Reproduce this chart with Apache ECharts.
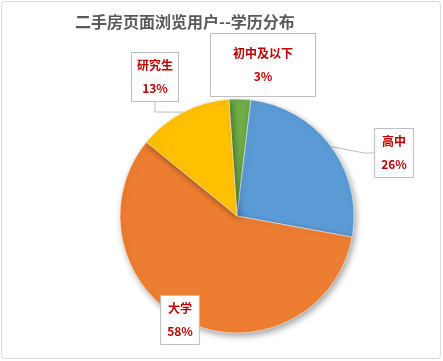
<!DOCTYPE html>
<html><head><meta charset="utf-8">
<script src="https://cdn.jsdelivr.net/npm/echarts@6/dist/echarts.min.js"></script>
<style>html,body{margin:0;padding:0;background:#fff}#c{width:443px;height:361px}</style>
</head><body><div id="c"></div>
<script>
var categories = ['初中及以下', '高中', '大学', '研究生'];
var values = [3, 26, 58, 13];
var colors = ['#70AD47', '#5B9BD5', '#ED7D31', '#FFC000'];
var titleText = '二手房页面浏览用户--学历分布';
// label box centres and paddings (layout only)
var labelPos = [[263, 65], [394, 153], [180, 320], [155, 77]];
var labelPad = [[8, 22], [1, 6], [1, 6], [1, 5]];

var chart = echarts.init(document.getElementById('c'), null, {renderer: 'canvas'});
var font = '"Noto Sans CJK SC", "Noto Sans", sans-serif';
chart.setOption({
  animation: false,
  backgroundColor: '#fff',
  title: {
    text: titleText, left: 70, top: 9,
    textStyle: {fontFamily: font, fontSize: 16, fontWeight: 'bold', color: '#595959'}
  },
  graphic: [{
    type: 'rect', shape: {x: 1.5, y: 1.5, width: 439, height: 357, r: 3},
    style: {fill: 'none', stroke: '#d9d9d9', lineWidth: 1}, silent: true, z: -1
  }],
  series: [{
    type: 'pie',
    center: [237, 216],
    radius: 117,
    startAngle: 94,
    clockwise: true,
    data: categories.map(function (c, i) {
      return {
        name: c, value: values[i],
        itemStyle: {color: colors[i]},
        label: {padding: labelPad[i]},
        labelLine: {show: i === 1 || i === 3}
      };
    }),
    itemStyle: {borderColor: '#fff', borderWidth: 0.5, shadowBlur: 6, shadowOffsetX: 2, shadowOffsetY: 3, shadowColor: 'rgba(0,0,0,0.35)'},
    label: {
      show: true,
      formatter: function (p) { return p.name + '\n' + p.value + '%'; },
      fontFamily: font, fontSize: 12, fontWeight: 'bold', color: '#C00000',
      lineHeight: 23, align: 'center',
      backgroundColor: '#fff', borderColor: '#bfbfbf', borderWidth: 1
    },
    labelLine: {lineStyle: {color: '#bfbfbf', width: 1}, length: 10, length2: 10},
    labelLayout: function (p) {
      var pos = labelPos[p.dataIndex];
      return {x: pos[0], y: pos[1], align: 'center', verticalAlign: 'middle'};
    }
  }]
});
</script></body></html>
